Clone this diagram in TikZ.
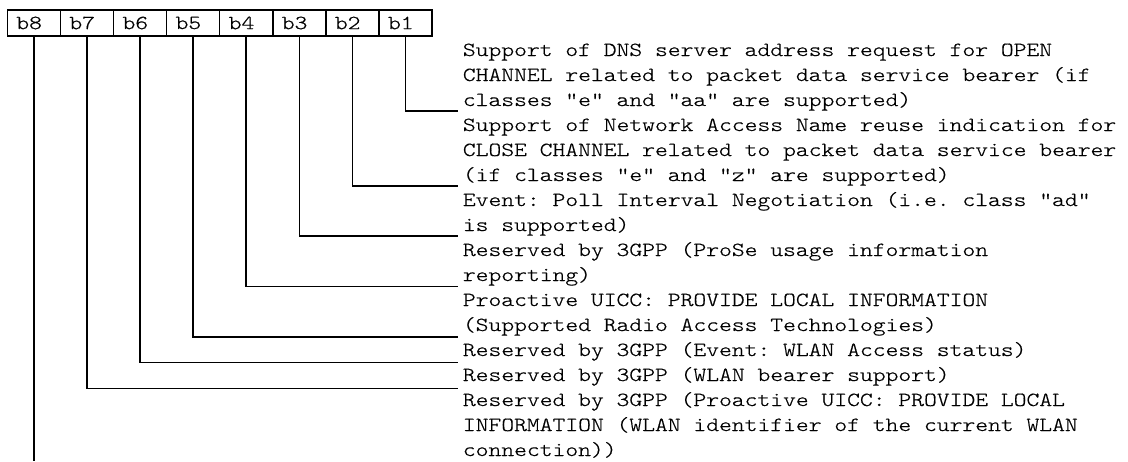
\documentclass[tikz,border=0pt]{standalone}
\usepackage{fontspec}
\setmonofont[FakeStretch=1.22,FakeBold=0.6]{Latin Modern Mono Light}
\begin{document}
\begin{tikzpicture}[x=1pt,y=-1pt,
  bitbox/.style={draw,line width=1.5pt,minimum height=26pt,inner xsep=9pt,inner ysep=0pt,
    text width=35.1pt,align=left,font=\ttfamily\fontsize{20pt}{25pt}\selectfont},
  desc/.style={anchor=base west,inner sep=0pt,align=left,
    font=\ttfamily\fontsize{20pt}{25pt}\selectfont},
  leader/.style={line width=1.7pt}]
\useasboundingbox (0,0) rectangle (1128,461);
\foreach \i/\n in {0/8,1/7,2/6,3/5,4/4,5/3,6/2,7/1}{
  \node[bitbox] (b\n) at (33.85+53.1*\i,23) {b\n};
}
\node[desc] (d1) at (462.7,106) {Support of DNS server address request for OPEN\\CHANNEL related to packet data service bearer (if\\classes "e" and "aa" are supported)};
\node[desc] (d2) at (462.7,181) {Support of Network Access Name reuse indication for\\CLOSE CHANNEL related to packet data service bearer\\(if classes "e" and "z" are supported)};
\node[desc] (d3) at (462.7,231) {Event: Poll Interval Negotiation (i.e. class "ad"\\is supported)};
\node[desc] (d4) at (462.7,281) {Reserved by 3GPP (ProSe usage information\\reporting)};
\node[desc] (d5) at (462.7,331) {Proactive UICC: PROVIDE LOCAL INFORMATION\\(Supported Radio Access Technologies)};
\node[desc] (d6) at (462.7,356) {Reserved by 3GPP (Event: WLAN Access status)};
\node[desc] (d7) at (462.7,381) {Reserved by 3GPP (WLAN bearer support)};
\node[desc] (d8) at (462.7,456) {Reserved by 3GPP (Proactive UICC: PROVIDE LOCAL\\INFORMATION (WLAN identifier of the current WLAN\\connection))};
\coordinate (e1) at (458,111);
\coordinate (e2) at (458,186);
\coordinate (e3) at (458,236);
\coordinate (e4) at (458,286.5);
\coordinate (e5) at (458,337);
\coordinate (e6) at (458,362.5);
\coordinate (e7) at (458,388.5);
\coordinate (e8) at (35,461);
\foreach \n in {1,...,7}{
  \draw[leader] (b\n.south) |- (e\n);
}
\draw[leader] (b8.south) -- (b8.south |- e8);
\end{tikzpicture}
\end{document}
